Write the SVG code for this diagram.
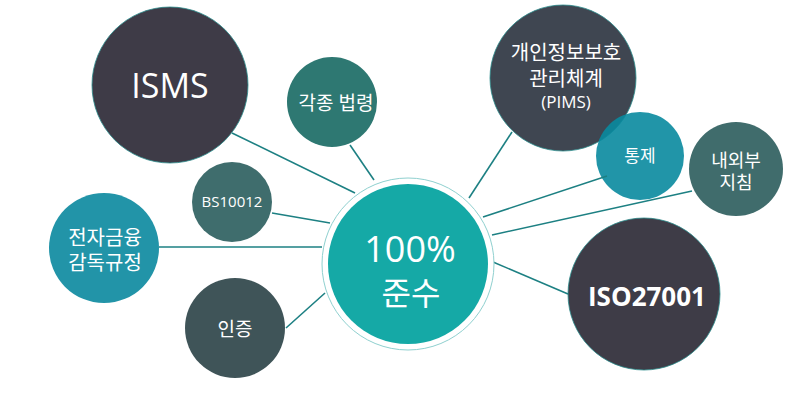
<svg xmlns="http://www.w3.org/2000/svg" width="806" height="402" viewBox="0 0 806 402">
<style>
.t{font-family:"Open Sans","Noto Sans CJK KR",sans-serif;fill:#ffffff;text-anchor:middle}
.ln{stroke:#1d8083;stroke-width:1.6;fill:none}
.edge{stroke:#2a8b8b;stroke-width:0.8}
</style>
<rect width="806" height="402" fill="#ffffff"/>
<g id="node-isms"><circle class="edge" cx="170" cy="85" r="78" fill="#3e3b47"/><text class="t" x="170" y="98" font-size="34">ISMS</text></g>
<g id="node-laws"><circle cx="332" cy="102" r="45" fill="#2e7872"/><text class="t" x="336" y="110" font-size="19">각종 법령</text></g>
<g id="node-bs"><circle cx="232" cy="202" r="40" fill="#3f6d6d"/><text class="t" x="232" y="207" font-size="15">BS10012</text></g>
<g id="node-efin"><circle cx="104" cy="248" r="55" fill="#2294a8"/><text class="t" x="105" y="245" font-size="20">전자금융</text><text class="t" x="105" y="270" font-size="20">감독규정</text></g>
<g id="node-cert"><circle cx="235" cy="328" r="50" fill="#3f5458"/><text class="t" x="235" y="336" font-size="19">인증</text></g>
<g id="node-pims"><circle class="edge" cx="563" cy="78" r="73" fill="#3f4651"/><text class="t" x="566" y="60" font-size="20">개인정보보호</text><text class="t" x="566" y="86" font-size="20">관리체계</text><text class="t" x="566" y="108" font-size="17">(PIMS)</text></g>
<g id="node-control"><circle cx="640" cy="156" r="44" fill="#098a9e" fill-opacity="0.9"/><text class="t" x="640" y="162" font-size="17">통제</text></g>
<g id="node-guide"><circle cx="736" cy="169" r="47" fill="#406c6c"/><text class="t" x="736" y="167" font-size="18">내외부</text><text class="t" x="736" y="189" font-size="18">지침</text></g>
<g id="node-iso"><circle class="edge" cx="644" cy="294" r="76" fill="#3e3c47"/><text class="t" x="647" y="306" font-size="26" font-weight="bold">ISO27001</text></g>
<g id="connectors">
<line class="ln" x1="232" y1="133" x2="355" y2="193"/>
<line class="ln" x1="350" y1="145" x2="374" y2="180"/>
<line class="ln" x1="272" y1="213" x2="330" y2="223"/>
<line class="ln" x1="159" y1="247" x2="322" y2="247"/>
<line class="ln" x1="286" y1="328" x2="325" y2="293"/>
<line class="ln" x1="512" y1="132" x2="469" y2="198"/>
<line class="ln" x1="607" y1="176" x2="483" y2="217"/>
<line class="ln" x1="692" y1="191" x2="492" y2="235"/>
<line class="ln" x1="568" y1="294" x2="493" y2="262"/>
</g>
<g id="node-center">
<circle cx="408" cy="264" r="86" fill="#ffffff" stroke="#8fd0cf" stroke-width="1"/>
<circle cx="408" cy="264" r="80" fill="#15a9a6"/>
<text class="t" x="410" y="262" font-size="36">100%</text>
<text class="t" x="411" y="305" font-size="32">준수</text>
</g>
</svg>
